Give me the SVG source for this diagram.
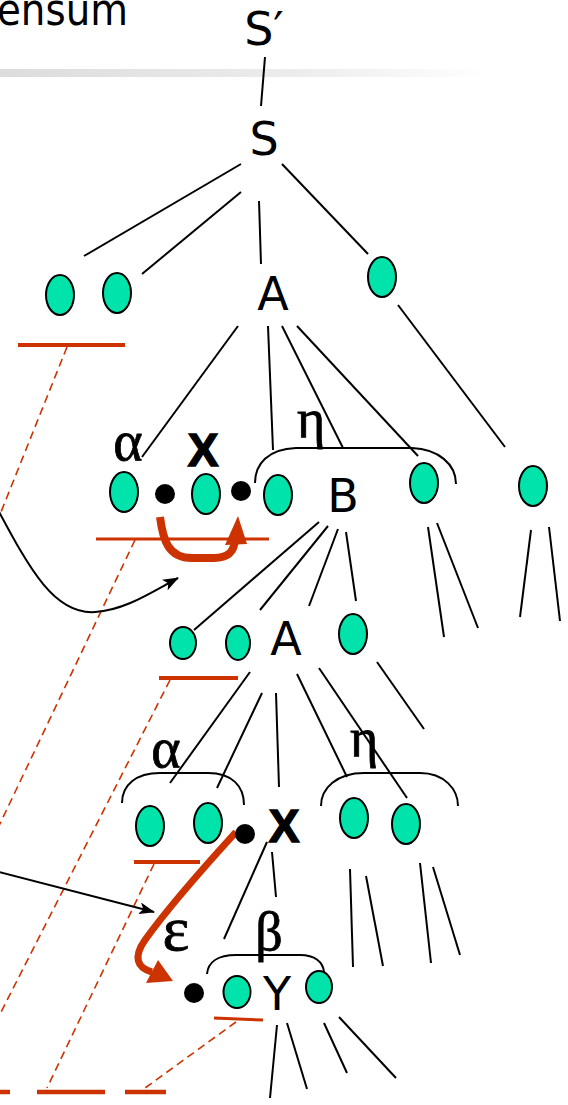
<svg xmlns="http://www.w3.org/2000/svg" width="568" height="1105" viewBox="0 0 568 1105">
<defs>
<linearGradient id="bar" x1="0" y1="0" x2="1" y2="0">
<stop offset="0" stop-color="#dcdcdc"/>
<stop offset="0.6" stop-color="#ececec"/>
<stop offset="1" stop-color="#ffffff"/>
</linearGradient>
<marker id="ah" viewBox="0 0 16 12" refX="15" refY="6" markerWidth="16" markerHeight="12" markerUnits="userSpaceOnUse" orient="auto">
<path d="M0,0 L16,6 L0,12 L4,6 Z" fill="#000"/>
</marker>
<style>
.tree{stroke:#000;stroke-width:2;fill:none;stroke-linecap:butt}
.leaf{fill:#00e3aa;stroke:#000;stroke-width:2}
.dot{fill:#000}
.lab{font-family:"DejaVu Sans",sans-serif;font-size:46px;fill:#000;text-anchor:middle}
.bold{font-family:"Liberation Sans",Arial,sans-serif;font-size:46px;font-weight:bold;fill:#000;stroke:#000;stroke-width:1.5;text-anchor:middle}
.greek{font-family:"Liberation Serif","DejaVu Serif",serif;fill:#000;stroke:#000;stroke-width:0.8;text-anchor:middle}
.brace{stroke:#000;stroke-width:2;fill:none}
.ul{stroke:#cc3300;stroke-width:4;fill:none}
.dash{stroke:#cc3300;stroke-width:1.6;stroke-dasharray:8 5;fill:none}
.red{stroke:#cc3300;fill:none;stroke-linecap:butt}
.black{stroke:#000;stroke-width:2;fill:none}
</style>
</defs>
<rect width="568" height="1105" fill="#fff"/>
<g id="title">
<text x="-3" y="25" font-family="DejaVu Sans,sans-serif" font-size="44" textLength="131" lengthAdjust="spacingAndGlyphs" fill="#000">ensum</text>
<rect x="0" y="69" width="490" height="8" fill="url(#bar)"/>
</g>
<g id="connectors">
<g class="tree">
<line x1="265" y1="57" x2="261" y2="106"/>
<line x1="241" y1="164" x2="84" y2="256"/>
<line x1="241" y1="192" x2="142" y2="274"/>
<line x1="259" y1="201" x2="261" y2="264"/>
<line x1="282" y1="164" x2="368" y2="254"/>
<line x1="238" y1="326" x2="142" y2="457"/>
<line x1="268" y1="326" x2="273" y2="450"/>
<line x1="282" y1="326" x2="343" y2="448"/>
<line x1="297" y1="326" x2="418" y2="456"/>
<line x1="398" y1="305" x2="505" y2="447"/>
<line x1="428" y1="527" x2="444" y2="637"/>
<line x1="437" y1="523" x2="478" y2="628"/>
<line x1="531" y1="530" x2="520" y2="617"/>
<line x1="549" y1="527" x2="560" y2="621"/>
<line x1="319" y1="522" x2="194" y2="630"/>
<line x1="328" y1="526" x2="260" y2="610"/>
<line x1="338" y1="529" x2="309" y2="606"/>
<line x1="346" y1="532" x2="356" y2="601"/>
<line x1="250" y1="672" x2="170" y2="783"/>
<line x1="262" y1="693" x2="217" y2="788"/>
<line x1="276" y1="693" x2="279" y2="787"/>
<line x1="297" y1="674" x2="347" y2="777"/>
<line x1="319" y1="668" x2="407" y2="798"/>
<line x1="377" y1="662" x2="424" y2="729"/>
<line x1="267" y1="842" x2="224" y2="939"/>
<line x1="272" y1="852" x2="276" y2="897"/>
<line x1="350" y1="869" x2="353" y2="967"/>
<line x1="366" y1="876" x2="383" y2="966"/>
<line x1="420" y1="863" x2="431" y2="963"/>
<line x1="433" y1="867" x2="460" y2="955"/>
<line x1="277" y1="1025" x2="270" y2="1098"/>
<line x1="287" y1="1023" x2="307" y2="1089"/>
<line x1="324" y1="1023" x2="347" y2="1073"/>
<line x1="339" y1="1017" x2="396" y2="1078"/>
</g>
<g id="braces" class="brace">
<path d="M255,483 C255,464 268,449 296,448 L412,448 C438,449 456,464 456,484"/>
<path d="M122,803 C122,785 136,773 160,773 L208,773 C232,773 244,786 244,805"/>
<path d="M321,806 C321,788 337,773 364,773 L420,773 C444,773 458,789 458,806"/>
<path d="M207,974 C208,962 218,955 236,955 L300,955 C315,955 323,962 324,972"/>
</g>
<g id="underlines" class="ul">
<line x1="18" y1="345" x2="125" y2="345"/>
<line x1="96" y1="539" x2="269" y2="539" stroke-width="3"/>
<line x1="159" y1="678" x2="238" y2="678"/>
<line x1="134" y1="862" x2="200" y2="862"/>
<line x1="214" y1="1018" x2="263" y2="1020" stroke-width="3"/>
</g>
<g id="dashed" class="dash">
<line x1="67" y1="347" x2="-5" y2="527"/>
<line x1="135" y1="540" x2="-3" y2="830"/>
<line x1="170" y1="680" x2="-3" y2="1020"/>
<line x1="154" y1="864" x2="47" y2="1088"/>
<line x1="236" y1="1022" x2="145" y2="1088"/>
</g>
<g id="bottom-dash" stroke="#cc3300" stroke-width="4.5">
<line x1="0" y1="1092" x2="10" y2="1092"/>
<line x1="37" y1="1092" x2="105" y2="1092"/>
<line x1="125" y1="1092" x2="166" y2="1092"/>
</g>
<g id="black-arrows">
<path class="black" d="M-3,508 C30,570 55,615 95,612 C125,610 150,593 178,578" marker-end="url(#ah)"/>
<line class="black" x1="-5" y1="871" x2="154" y2="912" marker-end="url(#ah)"/>
</g>
<g id="red-arrows">
<path class="red" stroke-width="8" d="M160,517 C163,540 168,558 192,558 L214,558 C228,558 234,552 235,540"/>
<polygon fill="#cc3300" points="238,516 225,545 247,544"/>
<path class="red" stroke-width="7" d="M236,832 C205,866 165,912 145,940 C133,957 137,968 152,972"/>
<polygon fill="#cc3300" points="173,981 146,983 158,960"/>
</g>
</g>
<g id="n-Sprime"><text class="lab" x="264" y="45">S′</text></g>
<g id="n-S"><text class="lab" x="264" y="155">S</text></g>
<g id="n-leaf1"><ellipse class="leaf" cx="60" cy="295" rx="14" ry="20"/></g>
<g id="n-leaf2"><ellipse class="leaf" cx="117" cy="293" rx="14" ry="20"/></g>
<g id="n-A1"><text class="lab" x="273" y="310">A</text></g>
<g id="n-leaf3"><ellipse class="leaf" cx="382" cy="277" rx="14" ry="20"/></g>
<g id="n-alpha1"><text class="greek" style="font-size:56px" x="128" y="460">α</text></g>
<g id="n-X1"><text class="bold" x="203" y="466">X</text></g>
<g id="n-eta1"><text class="greek" style="font-size:54px" x="311" y="437">η</text></g>
<g id="n-leaf4"><ellipse class="leaf" cx="124" cy="492" rx="14" ry="20"/></g>
<g id="n-dot1"><circle class="dot" cx="165" cy="494" r="10"/></g>
<g id="n-leaf5"><ellipse class="leaf" cx="206" cy="494" rx="14" ry="20"/></g>
<g id="n-dot2"><circle class="dot" cx="241" cy="491" r="10"/></g>
<g id="n-leaf6"><ellipse class="leaf" cx="278" cy="495" rx="14" ry="20"/></g>
<g id="n-B"><text class="lab" x="343" y="512">B</text></g>
<g id="n-leaf7"><ellipse class="leaf" cx="424" cy="483" rx="14" ry="20"/></g>
<g id="n-leaf8"><ellipse class="leaf" cx="533" cy="486" rx="14" ry="20"/></g>
<g id="n-leaf9"><ellipse class="leaf" cx="183" cy="643" rx="13" ry="16"/></g>
<g id="n-leaf10"><ellipse class="leaf" cx="238" cy="643" rx="12" ry="17"/></g>
<g id="n-A2"><text class="lab" x="286" y="655">A</text></g>
<g id="n-leaf11"><ellipse class="leaf" cx="353" cy="634" rx="14" ry="20"/></g>
<g id="n-alpha2"><text class="greek" style="font-size:56px" x="166" y="767">α</text></g>
<g id="n-eta2"><text class="greek" style="font-size:54px" x="364" y="756">η</text></g>
<g id="n-leaf12"><ellipse class="leaf" cx="150" cy="826" rx="14" ry="20"/></g>
<g id="n-leaf13"><ellipse class="leaf" cx="208" cy="823" rx="14" ry="20"/></g>
<g id="n-dot3"><circle class="dot" cx="245" cy="834" r="10"/></g>
<g id="n-X2"><text class="bold" x="284" y="842">X</text></g>
<g id="n-leaf14"><ellipse class="leaf" cx="354" cy="818" rx="14" ry="20"/></g>
<g id="n-leaf15"><ellipse class="leaf" cx="406" cy="824" rx="14" ry="20"/></g>
<g id="n-epsilon"><text class="greek" style="font-size:64px" x="176" y="950">ε</text></g>
<g id="n-beta"><text class="greek" style="font-size:54px" x="269" y="950">β</text></g>
<g id="n-dot4"><circle class="dot" cx="194" cy="993" r="10"/></g>
<g id="n-leaf16"><ellipse class="leaf" cx="237" cy="992" rx="13.5" ry="16"/></g>
<g id="n-Y"><text class="lab" x="277" y="1010">Y</text></g>
<g id="n-leaf17"><ellipse class="leaf" cx="319" cy="987" rx="13" ry="16"/></g>
</svg>
